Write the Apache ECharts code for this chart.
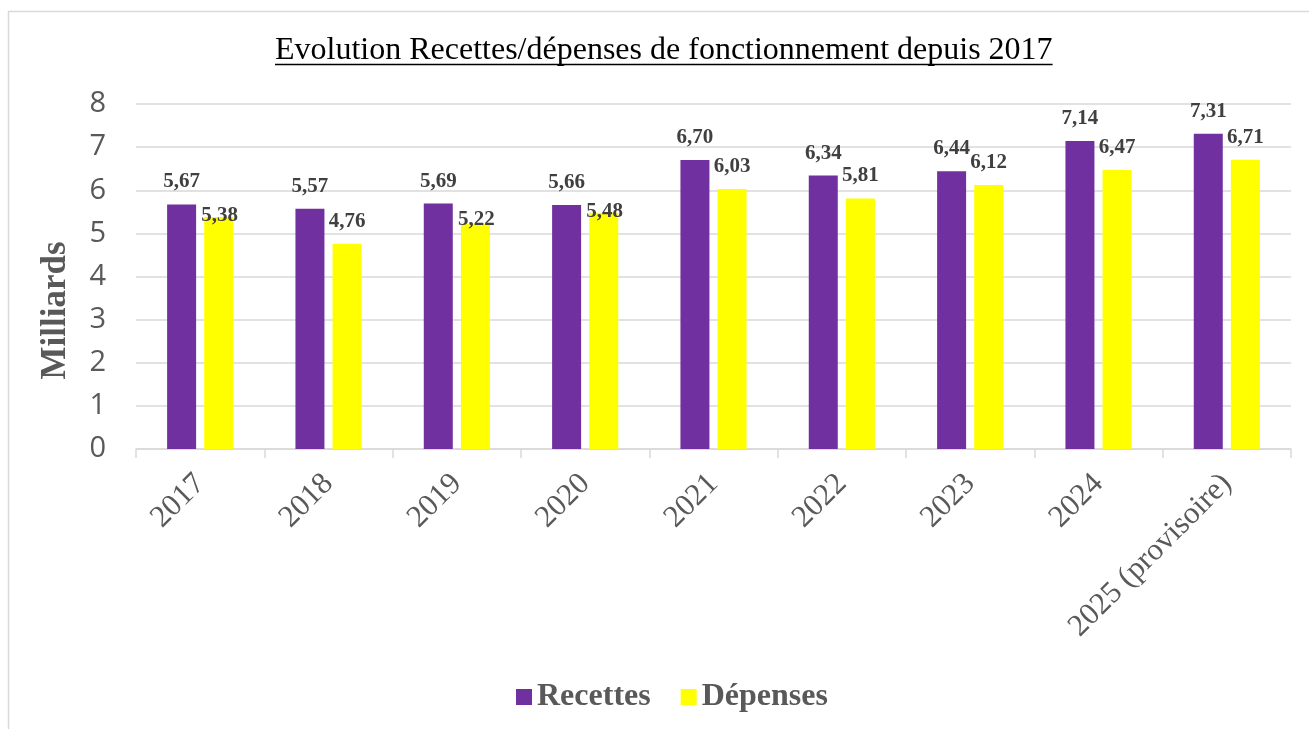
<!DOCTYPE html>
<html>
<head>
<meta charset="utf-8">
<script src="https://cdn.jsdelivr.net/npm/echarts@6/dist/echarts.min.js"></script>
<style>
  html, body { margin: 0; padding: 0; background: #fff; }
  #main { width: 1309px; height: 729px; }
</style>
</head>
<body>
<div id="main"></div>
<script>
// donnees du graphique
var annees = ["2017", "2018", "2019", "2020", "2021", "2022", "2023", "2024", "2025 (provisoire)"];
var recettes = [5.67, 5.57, 5.69, 5.66, 6.70, 6.34, 6.44, 7.14, 7.31];
var depenses = [5.38, 4.76, 5.22, 5.48, 6.03, 5.81, 6.12, 6.47, 6.71];
var titre = "Evolution Recettes/dépenses de fonctionnement depuis 2017";

// largeur du titre pour placer le soulignement
var ctx = document.createElement("canvas").getContext("2d");
ctx.font = '32px "Liberation Serif"';
var largeurTitre = ctx.measureText(titre).width;
var titreX = Math.round(664 - largeurTitre / 2);

function virgule(p) {
    return p.value.toFixed(2).replace(".", ",");
}

// quelques etiquettes "Dépenses" descendues sur la barre (comme dans l'original)
var etiquettesBasses = { 0: 21, 2: 18, 3: 21 };
var depensesData = depenses.map(function (v, i) {
    if (etiquettesBasses[i] === undefined) return v;
    return { value: v, label: { offset: [1, etiquettesBasses[i]] } };
});

var myChart = echarts.init(document.getElementById('main'));
var option = {
    backgroundColor: "#ffffff",
    animation: false,
    title: {
        text: titre,
        left: titreX,
        top: 35,
        padding: 0,
        textStyle: {
            fontFamily: "Liberation Serif",
            fontSize: 32,
            fontWeight: "normal",
            color: "#000000"
        }
    },
    graphic: [
        {   // cadre (seuls bords haut et gauche visibles)
            type: "rect",
            shape: { x: 8.5, y: 11.5, width: 1400, height: 800 },
            style: { fill: null, stroke: "#d9d9d9", lineWidth: 1.5 },
            silent: true
        },
        {   // soulignement du titre
            type: "line",
            shape: { x1: titreX, y1: 64.5, x2: titreX + largeurTitre, y2: 64.5 },
            style: { stroke: "#000000", lineWidth: 1.5 },
            silent: true
        }
    ],
    legend: {
        data: ["Recettes", "Dépenses"],
        left: 511,
        top: 676,
        icon: "rect",
        itemWidth: 16,
        itemHeight: 16,
        itemGap: 30,
        textStyle: {
            fontFamily: "Liberation Serif",
            fontSize: 32,
            fontWeight: "bold",
            color: "#595959"
        }
    },
    grid: {
        left: 136,
        right: 18,
        top: 104,
        bottom: 280
    },
    xAxis: {
        type: "category",
        data: annees,
        axisLine: { lineStyle: { color: "#d9d9d9", width: 1.5 } },
        axisTick: { show: true, length: 9, lineStyle: { color: "#d9d9d9", width: 1.5 } },
        axisLabel: {
            rotate: 45,
            margin: 30,
            interval: 0,
            fontFamily: "Liberation Serif",
            fontSize: 31,
            color: "#595959"
        }
    },
    yAxis: {
        type: "value",
        min: 0,
        max: 8,
        interval: 1,
        name: "Milliards",
        nameLocation: "middle",
        nameGap: 63,
        nameTextStyle: {
            fontFamily: "Liberation Serif",
            fontSize: 35,
            fontWeight: "bold",
            color: "#595959",
            padding: [0, 68, 0, 0]
        },
        axisLine: { show: false },
        axisTick: { show: false },
        axisLabel: {
            margin: 30,
            fontFamily: "Open Sans",
            fontSize: 29,
            color: "#595959"
        },
        splitLine: { lineStyle: { color: "#d9d9d9", width: 1.5 } }
    },
    series: [
        {
            name: "Recettes",
            type: "bar",
            data: recettes,
            barWidth: 29,
            barGap: "28%",
            itemStyle: { color: "#7030a0" },
            label: {
                show: true,
                position: "top",
                distance: 12,
                formatter: virgule,
                fontFamily: "Liberation Serif",
                fontSize: 21,
                fontWeight: "bold",
                color: "#404040"
            }
        },
        {
            name: "Dépenses",
            type: "bar",
            data: depensesData,
            barWidth: 29,
            itemStyle: { color: "#ffff00" },
            label: {
                show: true,
                position: "top",
                distance: 12,
                formatter: virgule,
                fontFamily: "Liberation Serif",
                fontSize: 21,
                fontWeight: "bold",
                color: "#404040"
            }
        }
    ]
};
myChart.setOption(option);
</script>
</body>
</html>
